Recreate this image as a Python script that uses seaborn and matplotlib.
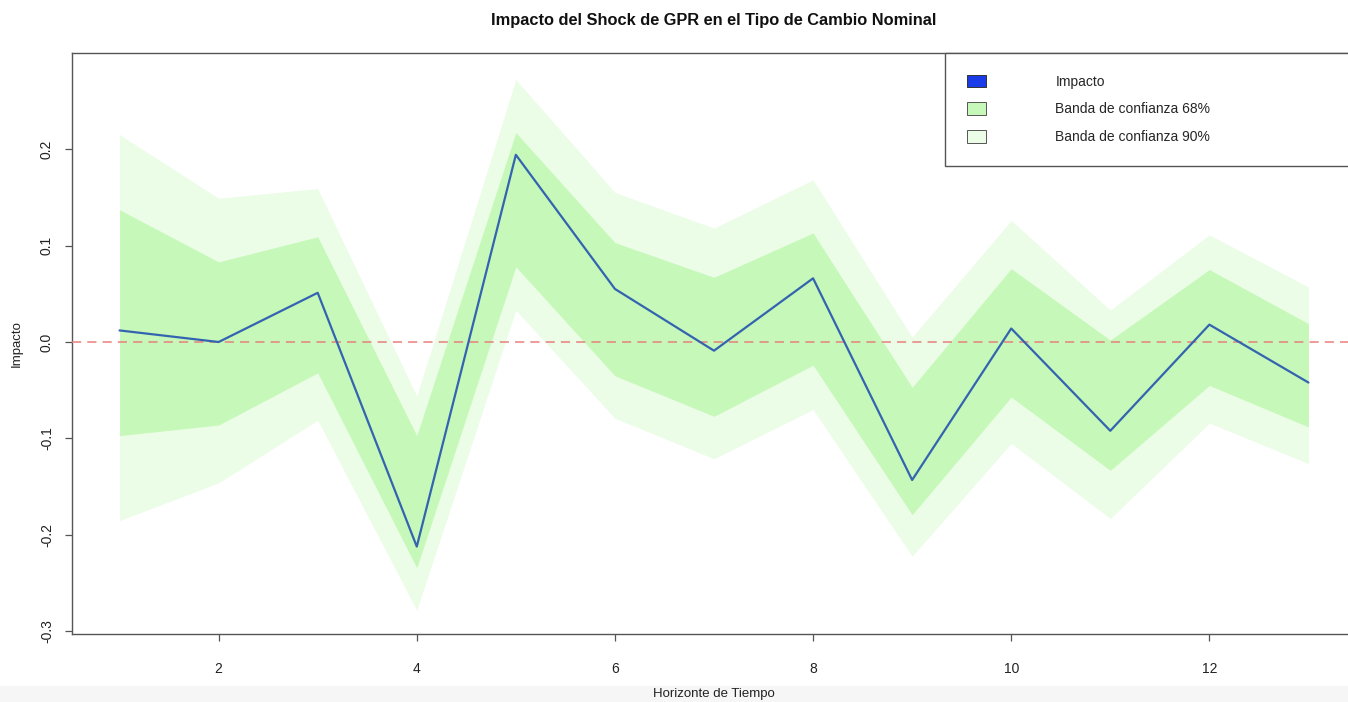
import matplotlib
matplotlib.use("Agg")
import matplotlib.pyplot as plt
from matplotlib.patches import Patch, Rectangle
import numpy as np
import pandas as pd
import seaborn as sns

# Values
horizonte = [1, 2, 3, 4, 5, 6, 7, 8, 9, 10, 11, 12, 13]
impacto = [0.012, 0.0, 0.051, -0.212, 0.194, 0.055, -0.009, 0.066, -0.143, 0.014, -0.092, 0.018, -0.042]
inf_68 = [-0.097, -0.086, -0.032, -0.234, 0.078, -0.035, -0.077, -0.024, -0.179, -0.057, -0.133, -0.045, -0.088]
sup_68 = [0.137, 0.083, 0.109, -0.097, 0.217, 0.103, 0.067, 0.113, -0.047, 0.076, 0.002, 0.075, 0.019]
inf_90 = [-0.185, -0.146, -0.081, -0.278, 0.033, -0.079, -0.121, -0.070, -0.222, -0.105, -0.183, -0.084, -0.126]
sup_90 = [0.215, 0.149, 0.159, -0.056, 0.272, 0.155, 0.118, 0.168, 0.005, 0.126, 0.033, 0.111, 0.057]

x_ticks = [2, 4, 6, 8, 10, 12]
y_ticks = [-0.3, -0.2, -0.1, 0.0, 0.1, 0.2]

df = pd.DataFrame({"Horizonte": horizonte, "Impacto": impacto})

sns.set_style("white")
plt.rcParams["font.family"] = ["Liberation Sans", "DejaVu Sans"]

col_68 = "#c6f8b9"
col_90 = "#ebfde6"
col_line = "#3464b0"

fig = plt.figure(figsize=(13.48, 7.02), dpi=100)
ax = fig.add_axes([72 / 1348, 68 / 702, 1284 / 1348, 581 / 702])

# faint gray strip at the bottom of the screenshot
fig.patches.append(Rectangle((0, 0), 1, 16 / 702, transform=fig.transFigure,
                             facecolor="#f6f6f6", edgecolor="none", zorder=-1))

ax.fill_between(horizonte, inf_90, sup_90, color=col_90, linewidth=0, zorder=1)
ax.fill_between(horizonte, inf_68, sup_68, color=col_68, linewidth=0, zorder=2)
sns.lineplot(data=df, x="Horizonte", y="Impacto", ax=ax, color=col_line,
             linewidth=1.6, zorder=4)
ax.axhline(0, color="#e8807c", linestyle=(0, (6, 4)), linewidth=1.1, zorder=3)

ax.set_xlim(0.52, 13.48)
ax.set_ylim(-0.3026, 0.2995)
ax.set_xticks(x_ticks)
ax.set_xticklabels([str(t) for t in x_ticks])
ax.set_yticks(y_ticks)
ax.set_yticklabels([f"{t:.1f}" for t in y_ticks], rotation=90, va="center")

for s in ax.spines.values():
    s.set_color("#555555")
    s.set_linewidth(1.0)
ax.tick_params(axis="both", direction="out", length=5, width=0.9,
               color="#555555", labelsize=10, labelcolor="#222222")
ax.tick_params(axis="x", pad=15, bottom=True)
ax.tick_params(axis="y", pad=8, left=True)

ax.set_xlabel("Horizonte de Tiempo", fontsize=9.5, color="#222222")
ax.set_ylabel("Impacto", fontsize=9.5, color="#222222")
ax.xaxis.set_label_coords(0.5, -0.093)
ax.yaxis.set_label_coords(-0.038, 0.5)

ax.set_title("Impacto del Shock de GPR en el Tipo de Cambio Nominal",
             fontsize=11.8, fontweight="bold", pad=20, color="#111111")

handles = [
    Patch(facecolor="#1a3ce8", edgecolor="#333333", linewidth=0.7, label="Impacto"),
    Patch(facecolor=col_68, edgecolor="#555555", linewidth=0.7, label="Banda de confianza 68%"),
    Patch(facecolor=col_90, edgecolor="#555555", linewidth=0.7, label="Banda de confianza 90%"),
]
leg = ax.legend(handles=handles, loc="upper left",
                bbox_to_anchor=(873 / 1284, 0, 411 / 1284, 1), mode="expand",
                borderaxespad=0, fontsize=10, handlelength=1.4, handleheight=1.0,
                handletextpad=5.0, labelspacing=1.0, borderpad=1.55,
                fancybox=False, framealpha=1, edgecolor="#555555")
leg.get_frame().set_linewidth(1.0)
leg.set_zorder(5)

plt.savefig("out.png", dpi=100)
